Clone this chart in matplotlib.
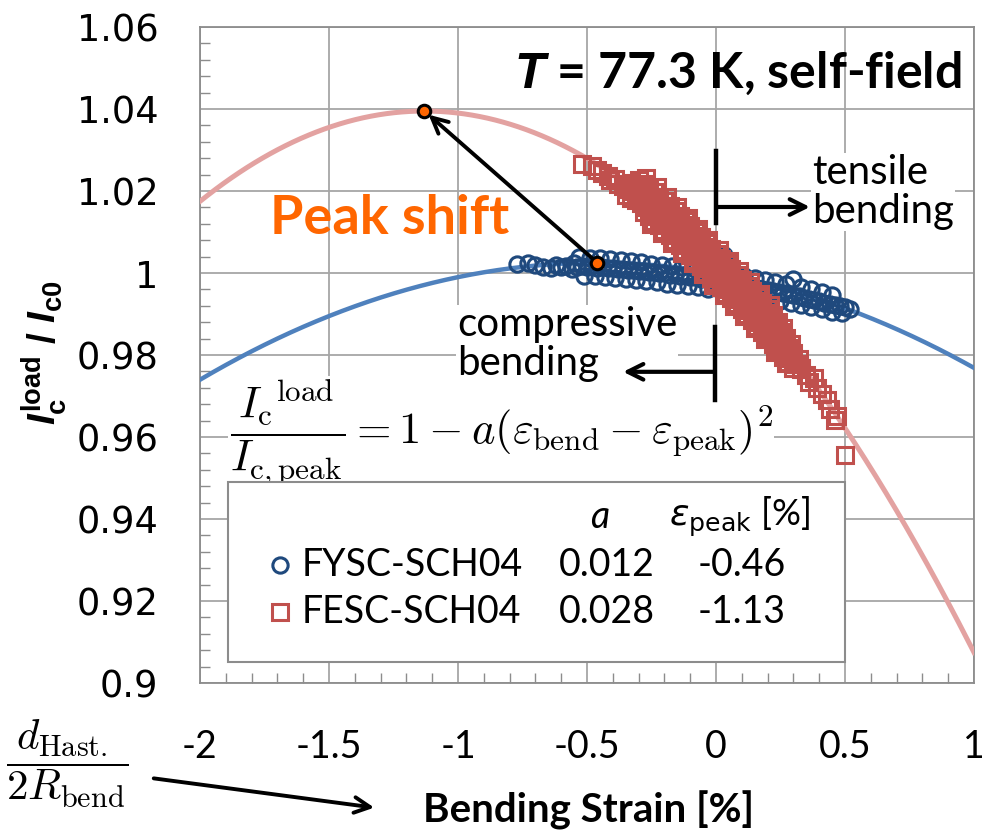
import numpy as np
import matplotlib.pyplot as plt
from matplotlib.patches import Rectangle, FancyArrowPatch

plt.rcParams['mathtext.fontset'] = 'custom'
plt.rcParams['mathtext.rm'] = 'Liberation Sans:bold'
plt.rcParams['mathtext.it'] = 'Liberation Sans:italic:bold'
plt.rcParams['mathtext.bf'] = 'Liberation Sans:bold'

# FYSC-SCH04 measurements (circles)
fysc_x = [-0.77, -0.73, -0.70, -0.67, -0.64, -0.62, -0.60, -0.58, -0.56, -0.55,
          # main band
          -0.54, -0.52, -0.50, -0.48, -0.46, -0.44, -0.42, -0.40, -0.38, -0.36,
          -0.34, -0.32, -0.30, -0.28, -0.26, -0.24, -0.22, -0.20, -0.18, -0.16,
          -0.14, -0.12, -0.10, -0.08, -0.06, -0.04, -0.02, 0.00, 0.02, 0.04,
          0.06, 0.08, 0.10, 0.12, 0.14, 0.16, 0.18, 0.20, 0.22, 0.24,
          0.26, 0.28, 0.30, 0.32, 0.34, 0.36, 0.38, 0.40, 0.42, 0.44,
          0.46, 0.48, 0.50, 0.52,
          # upper edge
          -0.53, -0.49, -0.45, -0.41, -0.37, -0.33, -0.29, -0.25, -0.21, -0.17,
          -0.13, -0.09, -0.05, -0.01, 0.03, 0.07, 0.11, 0.15, 0.19, 0.23,
          0.27, 0.30, 0.33, 0.37, 0.41, 0.45,
          # lower edge
          -0.51, -0.47, -0.43, -0.39, -0.35, -0.31, -0.27, -0.23, -0.19, -0.15,
          -0.11, -0.07, -0.03, 0.01, 0.05, 0.09, 0.13, 0.17, 0.21, 0.25,
          0.29, 0.33, 0.37, 0.41, 0.45, 0.49]
fysc_y = [1.0022, 1.0024, 1.0019, 1.0015, 1.0012, 1.0020, 1.0014, 1.0018, 1.0010, 1.0024,
          1.0015, 1.0017, 1.0014, 1.0016, 1.0013, 1.0015, 1.0011, 1.0012, 1.0009, 1.0010,
          1.0007, 1.0008, 1.0005, 1.0006, 1.0002, 1.0003, 0.9999, 1.0000, 0.9996, 0.9997,
          0.9993, 0.9994, 0.9990, 0.9990, 0.9986, 0.9985, 0.9981, 0.9983, 0.9979, 0.9977,
          0.9975, 0.9973, 0.9970, 0.9968, 0.9966, 0.9963, 0.9961, 0.9959, 0.9956, 0.9953,
          0.9951, 0.9948, 0.9946, 0.9943, 0.9940, 0.9937, 0.9934, 0.9931, 0.9928, 0.9925,
          0.9922, 0.9919, 0.9916, 0.9912,
          1.0038, 1.0037, 1.0036, 1.0034, 1.0031, 1.0029, 1.0026, 1.0023, 1.0020, 1.0017,
          1.0014, 1.0011, 1.0007, 1.0004, 1.0044, 0.9996, 0.9992, 0.9987, 0.9982, 0.9978,
          0.9973, 0.9986, 0.9966, 0.9960, 0.9954, 0.9947,
          0.9993, 0.9992, 0.9990, 0.9987, 0.9985, 0.9983, 0.9980, 0.9977, 0.9974, 0.9971,
          0.9968, 0.9965, 0.9962, 0.9960, 0.9957, 0.9952, 0.9947, 0.9942, 0.9937, 0.9932,
          0.9927, 0.9922, 0.9917, 0.9912, 0.9906, 0.9902]

# FESC-SCH04 measurements (squares)
fesc_x = [-0.52, -0.48, -0.46, -0.44, -0.42, -0.41, -0.39, -0.38,
          # band centre
          -0.36, -0.34, -0.32, -0.30, -0.28, -0.26, -0.24, -0.22, -0.20, -0.18,
          -0.16, -0.14, -0.12, -0.10, -0.08, -0.06, -0.04, -0.02, 0.00, 0.02,
          0.04, 0.06, 0.08, 0.10, 0.12, 0.14, 0.16, 0.18, 0.20, 0.22,
          0.24, 0.26, 0.28, 0.30, 0.32,
          # band top
          -0.30, -0.28, -0.26, -0.24, -0.22, -0.20, -0.18, -0.16, -0.14, -0.12,
          -0.10, -0.08, -0.06, -0.04, -0.02, 0.00, 0.02, 0.04, 0.06, 0.08,
          0.10, 0.12, 0.14, 0.16, 0.18, 0.20, 0.22, 0.24, 0.26,
          -0.33, -0.31, -0.29, -0.27, -0.25, -0.23, -0.21, -0.19, -0.17, -0.15,
          -0.13, -0.11, -0.09, -0.07, -0.05, -0.03, -0.01, 0.01, 0.03, 0.05,
          0.07, 0.09, 0.11, 0.13, 0.15, 0.17, 0.19, 0.21, 0.23, 0.25,
          0.27, 0.29,
          -0.27, -0.23, -0.19, -0.15, -0.11, -0.07, -0.03, 0.01, 0.05, 0.09,
          0.13, 0.17, 0.21,
          # band bottom
          -0.35, -0.33, -0.31, -0.29, -0.27, -0.25, -0.23, -0.21, -0.19, -0.17,
          -0.15, -0.13, -0.11, -0.09, -0.07, -0.05, -0.03, -0.01, 0.01, 0.03,
          0.05, 0.07, 0.09, 0.11, 0.13, 0.15, 0.17, 0.19, 0.21, 0.23,
          0.25, 0.27, 0.29, 0.31, 0.33,
          -0.28, -0.26, -0.24, -0.22, -0.20, -0.18, -0.16, -0.14, -0.12, -0.10,
          -0.08, -0.06, -0.04, -0.02, 0.00, 0.02, 0.04, 0.06, 0.08, 0.10,
          0.12, 0.14, 0.16, 0.18, 0.20, 0.22, 0.24, 0.26, 0.28, 0.30,
          -0.25, -0.21, -0.17, -0.13, -0.09, -0.05, -0.01, 0.03, 0.07, 0.11,
          0.15, 0.19, 0.23, 0.27,
          # tail
          0.33, 0.35, 0.36, 0.38, 0.39, 0.41, 0.43, 0.44, 0.46, 0.47, 0.50]
fesc_y = [1.0265, 1.0262, 1.0252, 1.0244, 1.0236, 1.0226, 1.0230, 1.0218,
          1.0212, 1.0205, 1.0199, 1.0192, 1.0183, 1.0173, 1.0162, 1.0151, 1.0140, 1.0128,
          1.0116, 1.0104, 1.0092, 1.0080, 1.0066, 1.0052, 1.0038, 1.0024, 1.0012, 1.0000,
          0.9987, 0.9974, 0.9961, 0.9948, 0.9934, 0.9920, 0.9906, 0.9892, 0.9878, 0.9862,
          0.9846, 0.9830, 0.9817, 0.9804, 0.9790,
          1.0227, 1.0218, 1.0208, 1.0197, 1.0186, 1.0175, 1.0163, 1.0151, 1.0139, 1.0127,
          1.0115, 1.0101, 1.0087, 1.0073, 1.0059, 1.0047, 1.0035, 1.0022, 1.0009, 0.9996,
          0.9983, 0.9969, 0.9955, 0.9941, 0.9927, 0.9913, 0.9897, 0.9881, 0.9865,
          1.0220, 1.0213, 1.0205, 1.0196, 1.0186, 1.0175, 1.0164, 1.0152, 1.0140, 1.0128,
          1.0116, 1.0104, 1.0091, 1.0077, 1.0063, 1.0049, 1.0036, 1.0024, 1.0012, 0.9999,
          0.9986, 0.9973, 0.9959, 0.9945, 0.9931, 0.9917, 0.9903, 0.9888, 0.9872, 0.9856,
          0.9841, 0.9828,
          1.0232, 1.0210, 1.0186, 1.0161, 1.0135, 1.0107, 1.0080, 1.0055, 1.0030, 1.0004,
          0.9977, 0.9950, 0.9921,
          1.0191, 1.0184, 1.0178, 1.0170, 1.0160, 1.0150, 1.0139, 1.0128, 1.0116, 1.0104,
          1.0092, 1.0080, 1.0068, 1.0055, 1.0041, 1.0027, 1.0013, 1.0000, 0.9988, 0.9975,
          0.9962, 0.9949, 0.9936, 0.9923, 0.9909, 0.9895, 0.9881, 0.9867, 0.9852, 0.9836,
          0.9820, 0.9805, 0.9792, 0.9779, 0.9765,
          1.0148, 1.0138, 1.0127, 1.0116, 1.0105, 1.0093, 1.0081, 1.0069, 1.0057, 1.0045,
          1.0031, 1.0017, 1.0003, 0.9989, 0.9977, 0.9965, 0.9952, 0.9939, 0.9926, 0.9913,
          0.9899, 0.9885, 0.9871, 0.9857, 0.9843, 0.9827, 0.9811, 0.9795, 0.9782, 0.9769,
          1.0120, 1.0098, 1.0074, 1.0050, 1.0024, 0.9997, 0.9971, 0.9946, 0.9920, 0.9894,
          0.9866, 0.9838, 0.9808, 0.9780,
          0.9768, 0.9752, 0.9735, 0.9745, 0.9720, 0.9705, 0.9690, 0.9668, 0.9642, 0.9652,
          0.9556]

# fit parameters: Ic/Ic,peak = 1 - a (eps - eps_peak)^2
names = ['FYSC-SCH04', 'FESC-SCH04']
fit_a = [0.012, 0.028]
fit_peak = [-0.46, -1.13]
peak_val = [1.0025, 1.0395]

blue_line = '#4F81BD'
red_line = '#E3A2A1'
blue_mk = '#1F497D'
red_mk = '#C0504D'
orange = '#FF6600'

fig = plt.figure(figsize=(9.84, 8.30), dpi=100)
ax = fig.add_axes([200/984, 147/830, 774/984, 656/830])

xx = np.linspace(-2, 1, 300)
ax.plot(xx, peak_val[0]*(1 - fit_a[0]*(xx - fit_peak[0])**2), color=blue_line, lw=3.2, zorder=3)
ax.plot(xx, peak_val[1]*(1 - fit_a[1]*(xx - fit_peak[1])**2), color=red_line, lw=3.6, zorder=3)
ax.plot(fysc_x, fysc_y, ls='none', marker='o', ms=11, mfc='none', mec=blue_mk, mew=2.2, zorder=4)
ax.plot(fesc_x, fesc_y, ls='none', marker='s', ms=12, mfc='none', mec=red_mk, mew=2.2, zorder=5)

ax.set_xlim(-2, 1)
ax.set_ylim(0.9, 1.06)
ax.set_xticks(np.arange(-2, 1.01, 0.5))
ax.set_xticklabels(['-2', '-1.5', '-1', '-0.5', '0', '0.5', '1'])
ax.set_yticks(np.arange(0.9, 1.061, 0.02))
ax.set_yticklabels(['0.9', '0.92', '0.94', '0.96', '0.98', '1', '1.02', '1.04', '1.06'])
ax.set_xticks(np.arange(-2, 1.01, 0.1), minor=True)
ax.set_yticks(np.arange(0.9, 1.061, 0.004), minor=True)
ax.grid(True, which='major', color='#A6A6A6', lw=1.3, zorder=0)
ax.tick_params(which='major', length=0)
ax.tick_params(axis='y', which='major', pad=30, labelsize=26.5)
ax.tick_params(axis='x', which='major', pad=33, labelsize=27)
ax.tick_params(which='minor', direction='in', length=7, color='#8C8C8C', width=1)
for lab in ax.get_xticklabels():
    lab.set_family('Lato')
for lab in ax.get_yticklabels():
    lab.set_family('DejaVu Sans')
for s in ax.spines.values():
    s.set_color('#8C8C8C')
    s.set_linewidth(1.3)

# peak markers and shift arrow
ax.annotate('', xy=(fit_peak[1], peak_val[1]), xytext=(fit_peak[0], peak_val[0]),
            arrowprops=dict(arrowstyle='->', color='black', lw=2.8, mutation_scale=28,
                            shrinkA=0, shrinkB=4), zorder=6)
ax.plot(fit_peak, peak_val, ls='none', marker='o', ms=9, mfc=orange, mec='black', mew=2.2, zorder=7)

ax.text(0.953, 1.0487, r'$\it{T}$ = 77.3 K, self-field', ha='right', va='center',
        fontsize=36, fontweight='bold', family='Lato', zorder=8)
ax.text(-1.264, 1.0134, 'Peak shift', ha='center', va='center', color=orange,
        fontsize=39, fontweight='bold', family='Lato', zorder=8)

# tensile / compressive markers
ax.text(0.372, 1.0198, 'tensile\nbending', ha='left', va='center', fontsize=29,
        family='Lato', linespacing=1.07, zorder=8,
        bbox=dict(facecolor='white', edgecolor='none', pad=1))
ax.plot([0, 0], [1.0122, 1.0298], color='black', lw=3.2, zorder=8)
ax.annotate('', xy=(0.364, 1.0161), xytext=(0, 1.0161),
            arrowprops=dict(arrowstyle='->', color='black', lw=3, mutation_scale=28, shrinkA=0, shrinkB=0),
            zorder=8)
ax.text(-1.004, 0.9827, 'compressive\nbending', ha='left', va='center', fontsize=29,
        family='Lato', linespacing=1.07, zorder=9,
        bbox=dict(facecolor='white', edgecolor='none', pad=1))
ax.plot([-0.005, -0.005], [0.9690, 0.9868], color='black', lw=3.2, zorder=10)
ax.annotate('', xy=(-0.36, 0.9759), xytext=(-0.005, 0.9759),
            arrowprops=dict(arrowstyle='->', color='black', lw=3, mutation_scale=28, shrinkA=0, shrinkB=0),
            zorder=10)

# fit equation
ax.text(-1.885, 0.9610,
        r'$\dfrac{I_{\mathrm{c}}{}^{\mathrm{load}}}{I_{\mathrm{c,peak}}} = 1 - a(\varepsilon_{\mathrm{bend}} - \varepsilon_{\mathrm{peak}})^2$',
        ha='left', va='center', fontsize=32, math_fontfamily='cm', zorder=7,
        bbox=dict(facecolor='white', edgecolor='none', pad=1))

# legend table
ax.add_patch(Rectangle((-1.891, 0.9051), 2.391, 0.0439, facecolor='white',
                       edgecolor='#8C8C8C', lw=1.5, zorder=9))
ax.text(-0.45, 0.9405, 'a', ha='center', va='center', fontsize=27, style='italic',
        family='Lato', zorder=10)
ax.text(0.093, 0.9405, r'$\varepsilon_{\mathrm{peak}}$ [%]', ha='center', va='center', fontsize=26,
        family='Lato', math_fontfamily='dejavusans', zorder=10)
rows_y = [0.9288, 0.9173]
markers = [('o', blue_mk, 11), ('s', red_mk, 12)]
for i in range(2):
    m, c, sz = markers[i]
    ax.plot([-1.69], [rows_y[i]], ls='none', marker=m, ms=sz, mfc='none', mec=c, mew=2.2, zorder=10)
    ax.text(-1.605, rows_y[i], names[i], ha='left', va='center', fontsize=27, family='Lato', zorder=10)
    ax.text(-0.422, rows_y[i], f'{fit_a[i]:.3f}', ha='center', va='center', fontsize=27,
            family='Lato', zorder=10)
    ax.text(0.10, rows_y[i], f'{fit_peak[i]:.2f}', ha='center', va='center', fontsize=27,
            family='Lato', zorder=10)

# axis labels
fig.text(0.045, 0.575, r'$I_{\mathrm{c}}^{\mathrm{load}}$ / $I_{\mathrm{c0}}$', rotation=90,
         ha='center', va='center', fontsize=28, fontweight='bold', family='Liberation Sans')
fig.text(0.598, 0.024, 'Bending Strain [%]', ha='center', va='center', fontsize=29,
         fontweight='bold', family='Lato')
fig.text(0.068, 0.079, r'$\dfrac{d_{\mathrm{Hast.}}}{2R_{\mathrm{bend}}}$', ha='center', va='center',
         fontsize=31, math_fontfamily='cm')
fig.patches.append(FancyArrowPatch((151/984, 52/830), (377/984, 22/830), transform=fig.transFigure,
                                   arrowstyle='->', mutation_scale=28, lw=2.8, color='black'))

fig.savefig('out.png', dpi=100)
